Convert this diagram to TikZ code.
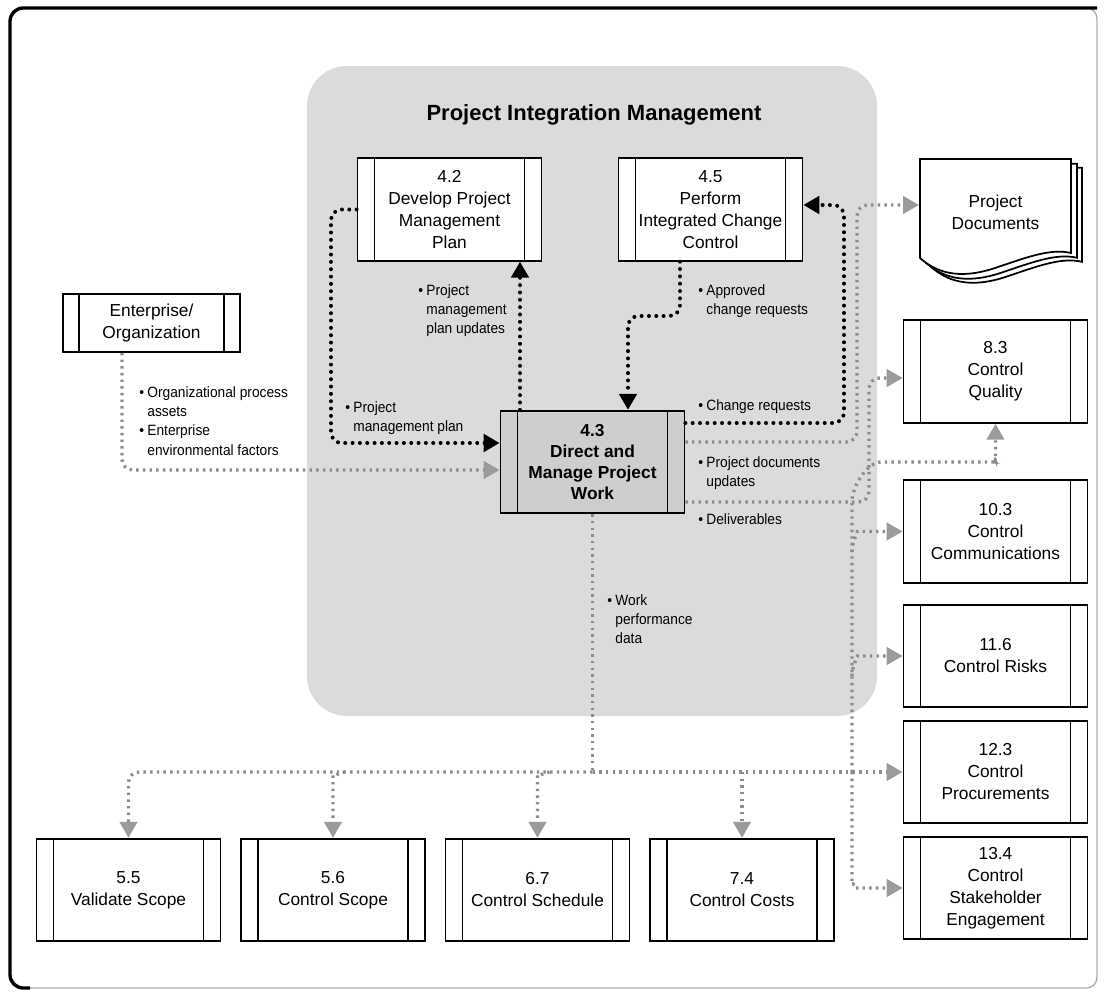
\documentclass[tikz,border=0pt]{standalone}
\usepackage{fontspec}
\setmainfont{Liberation Sans}
\newfontfamily\lblfont[FakeStretch=0.92]{Liberation Sans}
\usetikzlibrary{arrows.meta,calc}

\definecolor{regiongray}{RGB}{219,219,219}
\definecolor{workgray}{RGB}{206,206,206}
\definecolor{flowgray}{RGB}{140,140,140}
\definecolor{tipgray}{RGB}{155,155,155}
\definecolor{framegray}{RGB}{175,175,175}

\tikzset{
  sidebars/.style={path picture={
      \draw[line width=1.3pt] ([xshift=#1]path picture bounding box.north west) -- ([xshift=#1]path picture bounding box.south west);
      \draw[line width=1.3pt] ([xshift=-#1]path picture bounding box.north east) -- ([xshift=-#1]path picture bounding box.south east);
    }},
  proc/.style={draw, line width=1.3pt, fill=white, minimum width=138pt, minimum height=77pt,
    inner sep=0pt, align=center, font=\fontsize{13}{16.5}\selectfont, sidebars=12.75pt},
  lbl/.style={anchor=base west, inner sep=0pt, font=\lblfont\fontsize{11.2}{14.6}\selectfont},
  kflow/.style={line width=3pt, line cap=round, dash pattern=on 0pt off 5.5pt,
    rounded corners=8pt, -{Triangle[length=12pt,width=13pt]}},
  gline/.style={flowgray, line width=2.5pt, dash pattern=on 1.8pt off 3.2pt, rounded corners=8pt},
  gflow/.style={gline, -{Triangle[length=12pt,width=13pt,color=tipgray]}},
  sheet/.style={draw, line width=1.3pt, fill=white}
}

\begin{document}
\begin{tikzpicture}[x=0.75pt,y=-0.75pt]
\useasboundingbox (0,0) rectangle (1104,996);

% outer frame
\draw[framegray, line width=1pt, rounded corners=8pt] (10,8) rectangle (1097,988);
\draw[line width=2.5pt, rounded corners=10pt] (30,988) -- (10,988) -- (10,8) -- (1097,8);

% integration management area
\fill[regiongray, rounded corners=30pt] (307,66) rectangle (877,716);
\node[font=\bfseries\fontsize{16.5}{20}\selectfont] (title) at (594,115) {Project Integration Management};

% processes inside the knowledge area
\node[proc] (p42) at (449.5,209.5) {4.2\\Develop Project\\Management\\Plan};
\node[proc] (p45) at (710.5,209.5) {4.5\\Perform\\Integrated Change\\Control};
\node[proc, fill=workgray, font=\bfseries\fontsize{13}{15.75}\selectfont] (p43) at (592.5,462) {4.3\\Direct and\\Manage Project\\Work};

% enterprise
\node[proc, minimum width=132.75pt, minimum height=43.5pt, sidebars=12pt] (ent) at (151.5,323) {Enterprise/\\Organization};

% project documents (stacked sheets)
\foreach \d in {11,6,0}{
  \draw[sheet, shift={(\d,\d*0.8)}] (920,159) -- (1071,159) -- (1071,253)
    .. controls (1050,248) and (1025,258) .. (995,268)
    .. controls (965,278) and (940,276) .. (920,258) -- cycle;
}
\node[font=\fontsize{13}{16.5}\selectfont, align=center] (pd) at (995.5,212) {Project\\Documents};
\coordinate (pdin) at (919,205);

% controlling processes, right column
\node[proc] (q83)  at (995.5,371.5) {8.3\\Control\\Quality};
\node[proc] (q103) at (995.5,531.5) {10.3\\Control\\Communications};
\node[proc] (q116) at (995.5,656) {11.6\\Control Risks};
\node[proc] (q123) at (995.5,772) {12.3\\Control\\Procurements};
\node[proc] (q134) at (995.5,888) {13.4\\Control\\Stakeholder\\Engagement};

% controlling processes, bottom row
\node[proc] (b55) at (128.5,890) {5.5\\Validate Scope};
\node[proc] (b56) at (333,890) {5.6\\Control Scope};
\node[proc] (b67) at (537.5,890) {6.7\\Control Schedule};
\node[proc] (b74) at (742,890) {7.4\\Control Costs};

% black flows
\draw[kflow] (p42.west) -- (331,209.5) -- (331,443) -- ($(p43.west)+(0,-19)$);
\draw[kflow] ($(p43.north)+(-72.5,0)$) -- ($(p42.south)+(70.5,0)$);
\draw[kflow] ($(p45.south)+(-30.5,0)$) -- (680,316) -- (628,316) -- ($(p43.north)+(35.5,0)$);
\draw[kflow] ($(p43.east)+(0,-39)$) -- (844,423) -- (844,205) -- ($(p45.east)+(0,-4.5)$);

% gray flows
\draw[gflow] ($(ent.south)+(-29.5,0)$) -- (122,470) -- ($(p43.west)+(0,8)$);
\draw[gflow] ($(p43.east)+(0,-20)$) -- (857,442) -- (857,205) -- (pdin);
\draw[gflow] ($(p43.east)+(0,40)$) -- (869,502) -- (869,378) -- ($(q83.west)+(0,6.5)$);

\draw[gline] (p43.south) -- (592.5,772) coordinate (wj);
\draw[gflow] (wj) -- (128.5,772) -- (b55.north);
\draw[gflow] (345,772) to[out=180,in=90] (333,786) -- (b56.north);
\draw[gflow] (549.5,772) to[out=180,in=90] (537.5,786) -- (b67.north);
\draw[gflow] (742,772) -- (b74.north);
\draw[gflow] (wj) -- (q123.west);

\draw[gflow] (852,772) -- (852,512) to[out=90,in=180] (892,462) -- (983,462) to[out=0,in=-90] (995.5,450) -- (q83.south);
\draw[gflow] (852,552) to[out=90,in=180] (868,531.5) -- (q103.west);
\draw[gflow] (852,676) to[out=90,in=180] (868,656) -- (q116.west);
\draw[gflow] (852,772) -- (852,874) to[out=-90,in=180] (866,888) -- (q134.west);

% flow labels
\node[lbl] (lopa) at (139,397) {\begin{tabular}[t]{@{}l@{\hspace{2.5pt}}l@{}}\textbullet & Organizational process\\ & assets\\ \textbullet & Enterprise\\ & environmental factors\end{tabular}};
\node[lbl] (lpmpu) at (418,295) {\begin{tabular}[t]{@{}l@{\hspace{2.5pt}}l@{}}\textbullet & Project\\ & management\\ & plan updates\end{tabular}};
\node[lbl] (lpmp) at (345,412) {\begin{tabular}[t]{@{}l@{\hspace{2.5pt}}l@{}}\textbullet & Project\\ & management plan\end{tabular}};
\node[lbl] (lacr) at (698,295) {\begin{tabular}[t]{@{}l@{\hspace{2.5pt}}l@{}}\textbullet & Approved\\ & change requests\end{tabular}};
\node[lbl] (lcr) at (698,410) {\begin{tabular}[t]{@{}l@{\hspace{2.5pt}}l@{}}\textbullet & Change requests\end{tabular}};
\node[lbl] (lpdu) at (698,467) {\begin{tabular}[t]{@{}l@{\hspace{2.5pt}}l@{}}\textbullet & Project documents\\ & updates\end{tabular}};
\node[lbl] (ldel) at (698,524) {\begin{tabular}[t]{@{}l@{\hspace{2.5pt}}l@{}}\textbullet & Deliverables\end{tabular}};
\node[lbl] (lwpd) at (607,605) {\begin{tabular}[t]{@{}l@{\hspace{2.5pt}}l@{}}\textbullet & Work\\ & performance\\ & data\end{tabular}};
\end{tikzpicture}
\end{document}
